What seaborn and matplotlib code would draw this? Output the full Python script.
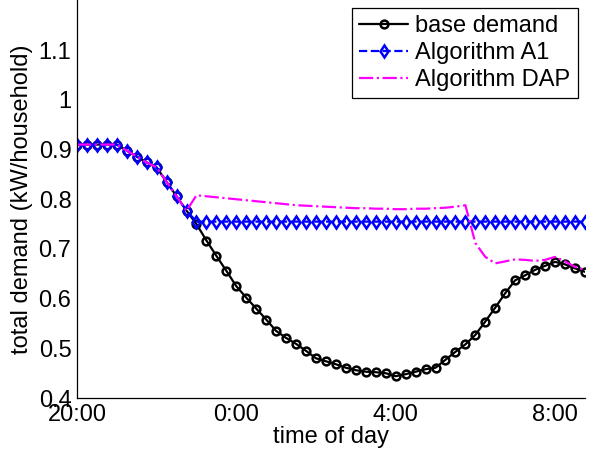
import numpy as np
import pandas as pd
import matplotlib
matplotlib.use("Agg")
import matplotlib.pyplot as plt
import seaborn as sns

# time in hours after 20:00, 15-minute steps (20:00 ... 8:45)
hours = np.arange(52) * 0.25

base_demand = [
    0.910, 0.910, 0.910, 0.910, 0.910, 0.898, 0.886, 0.874, 0.864, 0.835,
    0.806, 0.777, 0.750, 0.717, 0.686, 0.656, 0.625, 0.602, 0.580, 0.558,
    0.535, 0.521, 0.509, 0.495, 0.480, 0.474, 0.468, 0.461, 0.456, 0.453,
    0.452, 0.450, 0.444, 0.448, 0.453, 0.458, 0.461, 0.477, 0.493, 0.508,
    0.527, 0.554, 0.582, 0.611, 0.637, 0.647, 0.658, 0.666, 0.674, 0.669,
    0.661, 0.654,
]
algo_a1 = [
    0.910, 0.910, 0.910, 0.910, 0.910, 0.898, 0.886, 0.874, 0.864, 0.835,
    0.806, 0.777, 0.755, 0.755, 0.755, 0.755, 0.755, 0.755, 0.755, 0.755,
    0.755, 0.755, 0.755, 0.755, 0.755, 0.755, 0.755, 0.755, 0.755, 0.755,
    0.755, 0.755, 0.755, 0.755, 0.755, 0.755, 0.755, 0.755, 0.755, 0.755,
    0.755, 0.755, 0.755, 0.755, 0.755, 0.755, 0.755, 0.755, 0.755, 0.755,
    0.755, 0.755,
]
algo_dap = [
    0.910, 0.910, 0.910, 0.910, 0.910, 0.898, 0.886, 0.874, 0.864, 0.835,
    0.806, 0.777, 0.808, 0.806, 0.804, 0.802, 0.800, 0.798, 0.796, 0.794,
    0.792, 0.790, 0.788, 0.787, 0.786, 0.785, 0.784, 0.783, 0.782, 0.782,
    0.781, 0.781, 0.780, 0.780, 0.781, 0.781, 0.782, 0.783, 0.785, 0.788,
    0.712, 0.684, 0.671, 0.675, 0.679, 0.678, 0.676, 0.678, 0.684, 0.675,
    0.664, 0.658,
]
x_tick_pos = [0, 4, 8, 12]
x_tick_labels = ["20:00", "0:00", "4:00", "8:00"]
y_ticks = [0.4, 0.5, 0.6, 0.7, 0.8, 0.9, 1.0, 1.1]
y_tick_labels = ["0.4", "0.5", "0.6", "0.7", "0.8", "0.9", "1", "1.1"]

sns.set_style("white")
plt.rcParams["font.family"] = ["Liberation Sans", "DejaVu Sans"]
plt.rcParams["font.size"] = 17
plt.rcParams["text.color"] = "black"
plt.rcParams["axes.labelcolor"] = "black"
plt.rcParams["xtick.color"] = "black"
plt.rcParams["ytick.color"] = "black"

df = pd.DataFrame({"t": hours, "base": base_demand, "a1": algo_a1, "dap": algo_dap})

fig = plt.figure(figsize=(5.92, 4.57), dpi=100)
ax = fig.add_axes([0.130, 0.129, 0.858, 0.870])

sns.lineplot(data=df, x="t", y="base", ax=ax, color="black", linewidth=1.6,
             marker="o", markersize=5.6, markerfacecolor="none",
             markeredgecolor="black", markeredgewidth=1.8,
             label="base demand", estimator=None, sort=False)
sns.lineplot(data=df, x="t", y="a1", ax=ax, color="blue", linewidth=1.6,
             linestyle="--", marker="d", markersize=6.6, markerfacecolor="none",
             markeredgecolor="blue", markeredgewidth=1.8,
             label="Algorithm A1", estimator=None, sort=False)
sns.lineplot(data=df, x="t", y="dap", ax=ax, color="magenta", linewidth=1.6,
             linestyle="-.", label="Algorithm DAP", estimator=None, sort=False)

ax.set_xlim(0, 12.75)
ax.set_ylim(0.4, 1.2)
ax.set_xticks(x_tick_pos)
ax.set_xticklabels(x_tick_labels)
ax.set_yticks(y_ticks)
ax.set_yticklabels(y_tick_labels)
ax.tick_params(direction="in", length=3.6, width=0.7, colors="black",
               labelsize=17)
ax.tick_params(axis="y", pad=4)
ax.tick_params(axis="x", pad=4)
for side in ["top", "right"]:
    ax.spines[side].set_visible(False)
for side in ["left", "bottom"]:
    ax.spines[side].set_color("black")
    ax.spines[side].set_linewidth(0.9)

ax.set_xlabel("time of day", fontsize=17, labelpad=0, color="black")
ax.set_ylabel("total demand (kW/household)", fontsize=17, labelpad=4, color="black")

leg = ax.legend(loc="upper right", bbox_to_anchor=(577.7 / 592, 1 - 8.3 / 457),
                bbox_transform=fig.transFigure, borderaxespad=0,
                fontsize=17, frameon=True, fancybox=False, framealpha=1,
                edgecolor="black", handlelength=2.1, handletextpad=0.3,
                borderpad=0.3, labelspacing=0.2, numpoints=1)
leg.get_frame().set_linewidth(0.9)
for txt in leg.get_texts():
    txt.set_color("black")

fig.savefig("out.png", dpi=100)
